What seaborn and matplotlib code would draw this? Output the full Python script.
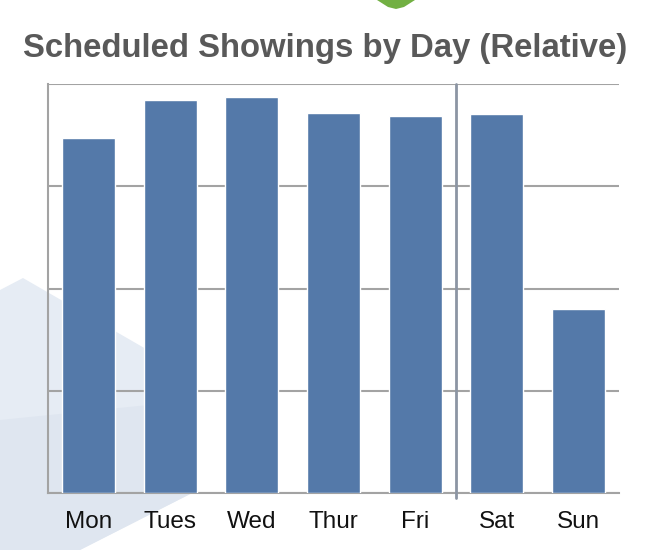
import matplotlib
matplotlib.use("Agg")
import matplotlib.pyplot as plt
import seaborn as sns
import pandas as pd
from matplotlib.patches import Polygon

# data (relative; axis has no numbers)
days = ["Mon", "Tues", "Wed", "Thur", "Fri", "Sat", "Sun"]
showings = [86.8, 96.1, 96.8, 92.9, 92.2, 92.6, 45.1]
df = pd.DataFrame({"day": days, "showings": showings})

sns.set_style("white")
plt.rcParams["font.family"] = ["Liberation Sans", "DejaVu Sans"]

W, H = 668, 550
fig = plt.figure(figsize=(W / 100, H / 100), dpi=100)

# faint background decoration (slide artwork)
def px(pts):
    return [(x / W, 1 - y / H) for x, y in pts]

fig.patches.append(Polygon(px([(0, 290), (23, 278), (198, 379), (198, 490), (80, 550), (0, 550)]),
                           closed=True, transform=fig.transFigure, facecolor="#e6ecf4",
                           edgecolor="none", zorder=-2))
fig.patches.append(Polygon(px([(0, 420), (198, 400), (198, 490), (80, 550), (0, 550)]),
                           closed=True, transform=fig.transFigure, facecolor="#dfe6f0",
                           edgecolor="none", zorder=-1))
fig.patches.append(Polygon(px([(377, 0), (415, 0), (404, 7), (396, 9), (388, 7)]),
                           closed=True, transform=fig.transFigure, facecolor="#72b043",
                           edgecolor="none", zorder=-1))

ax = fig.add_axes([48 / W, 1 - 493 / H, (619 - 48) / W, (493 - 84) / H])
ax.set_facecolor("none")
ax.set_zorder(1)

sns.barplot(data=df, x="day", y="showings", color="#5479a9", saturation=1,
            width=0.65, ax=ax, zorder=3)

ax.set_xlim(-0.5, 6.5)
ax.set_ylim(0, 100)
ax.set_yticks([0, 25, 50, 75, 100])
ax.set_yticklabels([])
ax.yaxis.grid(True, color="#a3a3a3", linewidth=1.5)
ax.set_axisbelow(True)
ax.tick_params(axis="y", length=0)

# weekday / weekend separator
ax.axvline(4.5, color="#8c95a3", linewidth=2, zorder=4, clip_on=False, ymin=-0.012)

for s in ["top", "right"]:
    ax.spines[s].set_visible(False)
for s in ["left", "bottom"]:
    ax.spines[s].set_color("#a3a3a3")
    ax.spines[s].set_linewidth(1.5)

ax.set_xticks(range(len(days)))
ax.set_xticklabels(days, fontsize=17.5, color="#111111")
ax.tick_params(axis="x", length=0, pad=13)
ax.set_xticks([i + 0.5 for i in range(-1, len(days))], minor=True)
ax.tick_params(axis="x", which="minor", length=4, color="#a3a3a3", width=1.2)
ax.set_xlabel("")
ax.set_ylabel("")

fig.text(325 / W, 1 - 48 / H, "Scheduled Showings by Day (Relative)", ha="center", va="center",
         fontsize=23.7, fontweight="bold", color="#595959")

fig.savefig("out.png", dpi=100)
